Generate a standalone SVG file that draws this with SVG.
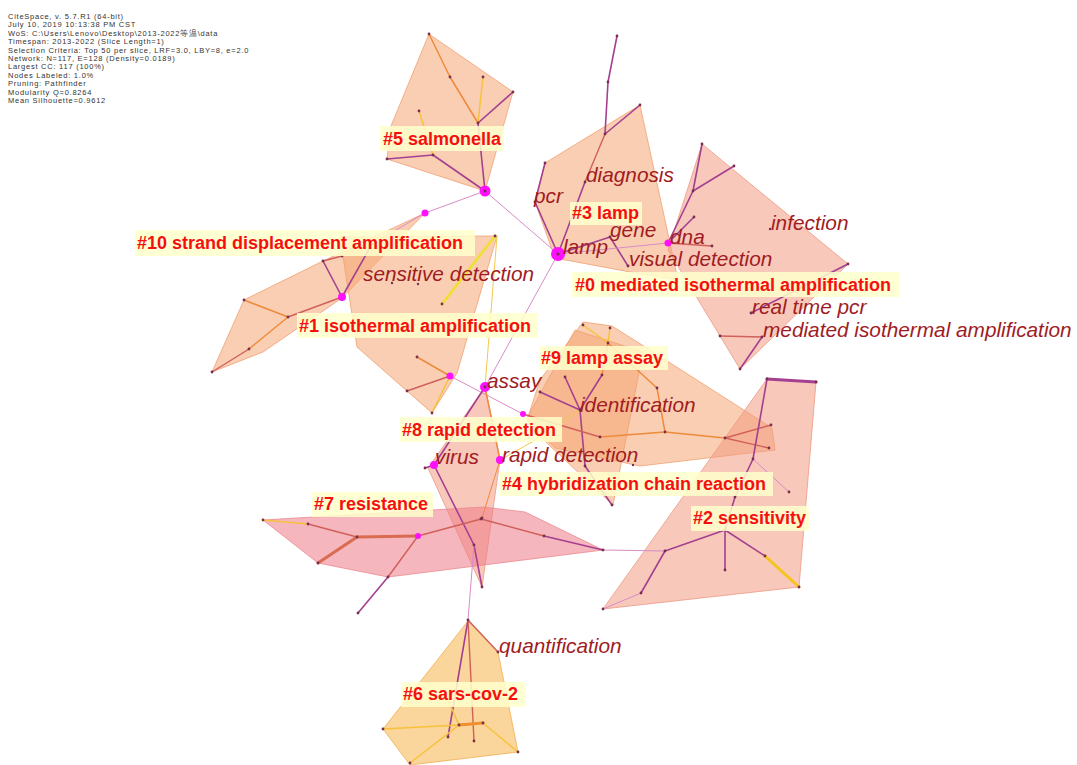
<svg xmlns="http://www.w3.org/2000/svg" width="1077" height="765" viewBox="0 0 1077 765">
<style>
.hdr{font-family:"Liberation Sans",Arial,sans-serif;font-size:7.5px;letter-spacing:0.75px;fill:#333}
.hull{fill-opacity:0.55;stroke-opacity:0.8;stroke-width:1}
.hO{fill:#F6A672;stroke:#F0A070}
.hS{fill:#F39A82;stroke:#EE9A84}
.hP{fill:#EE7A88;stroke:#EE8A90}
.hY{fill:#F5B24A;stroke:#F0B050}
.e{fill:none;stroke-linecap:round}
.p{stroke:#A4408F;stroke-width:1.6}
.pk{stroke:#D98CC8;stroke-width:1}
.o{stroke:#EE8A3C;stroke-width:1.5}
.y{stroke:#F7C23A;stroke-width:1.5}
.yt{stroke:#F4C84A;stroke-width:1}
.yb{stroke:#EEE030;stroke-width:2.6}
.yg{stroke:#F5C518;stroke-width:3}
.r{stroke:#D0605A;stroke-width:1.4}
.rt{stroke:#DA6A50;stroke-width:3}
.ot{stroke:#EE9030;stroke-width:3}
.pt{stroke:#A4408F;stroke-width:3}
.dot{fill:#7A2E4E}
.mg{fill:#FF10FF}
.box{fill:#FFFFCC;fill-opacity:0.85}
.cl{font-family:"Liberation Sans",Arial,sans-serif;font-weight:bold;font-size:18px;fill:#F51010}
.kw{font-family:"Liberation Sans",Arial,sans-serif;font-style:italic;font-size:20.8px;fill:#A01C24}
</style>
<g id="header">
<text class="hdr" x="8" y="19">CiteSpace, v. 5.7.R1 (64-bit)</text>
<text class="hdr" x="8" y="27.4">July 10, 2019 10:13:38 PM CST</text>
<text class="hdr" x="8" y="35.8">WoS: C:\Users\Lenovo\Desktop\2013-2022等温\data</text>
<text class="hdr" x="8" y="44.2">Timespan: 2013-2022 (Slice Length=1)</text>
<text class="hdr" x="8" y="52.6">Selection Criteria: Top 50 per slice, LRF=3.0, LBY=8, e=2.0</text>
<text class="hdr" x="8" y="61">Network: N=117, E=128 (Density=0.0189)</text>
<text class="hdr" x="8" y="69.4">Largest CC: 117 (100%)</text>
<text class="hdr" x="8" y="77.8">Nodes Labeled: 1.0%</text>
<text class="hdr" x="8" y="86.2">Pruning: Pathfinder</text>
<text class="hdr" x="8" y="94.6">Modularity Q=0.8264</text>
<text class="hdr" x="8" y="103">Mean Silhouette=0.9612</text>
</g>
<g id="hulls">
<polygon id="hull5" class="hull hO" points="429,34 513,92 485,191 387,159 391,126"/>
<polygon id="hull3" class="hull hO" points="545,163 640,105 678,280 630,272 555,258 535,202"/>
<polygon id="hull0" class="hull hS" points="702,144 848,264 740,369 668,250"/>
<polygon id="hull10" class="hull hO" points="212,372 244,300 323,261 425,213 342,298 263,352"/>
<polygon id="hull1" class="hull hO" points="340,237 497,236 457,373 432,413 357,347"/>
<polygon id="hull9" class="hull hO" points="583,322 612,326 650,350 772,428 775,450 640,466 555,448 527,420 540,380"/>
<polygon id="hull4" class="hull hO" points="575,330 643,352 613,505 533,430 527,418"/>
<polygon id="hull8" class="hull hS" points="485,387 500,460 482,587 428,468"/>
<polygon id="hull7" class="hull hP" points="263,520 483,507 525,512 603,550 388,577 318,563"/>
<polygon id="hull2" class="hull hS" points="767,379 816,382 799,587 603,609"/>
<polygon id="hull6" class="hull hY" points="468,621 498,652 518,752 410,765 383,729"/>
</g>
<g id="connectors" class="e">
<line class="e o" x1="429" y1="34" x2="450" y2="77"/>
<line class="e o" x1="450" y1="77" x2="478" y2="123"/>
<line class="e y" x1="483" y1="77" x2="478" y2="123"/>
<line class="e p" x1="513" y1="92" x2="478" y2="123"/>
<line class="e p" x1="478" y1="123" x2="485" y2="191"/>
<line class="e y" x1="419" y1="111" x2="433" y2="155"/>
<line class="e p" x1="387" y1="159" x2="433" y2="155"/>
<line class="e p" x1="433" y1="155" x2="485" y2="191"/>
<line class="e pk" x1="485" y1="191" x2="425" y2="213"/>
<line class="e pk" x1="485" y1="191" x2="558" y2="254"/>
<line class="e pk" x1="425" y1="213" x2="372" y2="244"/>
<line class="e p" x1="372" y1="244" x2="342" y2="297"/>
<line class="e p" x1="323" y1="261" x2="342" y2="297"/>
<line class="e r" x1="323" y1="261" x2="342" y2="256"/>
<line class="e r" x1="342" y1="297" x2="288" y2="317"/>
<line class="e o" x1="288" y1="317" x2="244" y2="300"/>
<line class="e o" x1="288" y1="317" x2="249" y2="349"/>
<line class="e r" x1="249" y1="349" x2="212" y2="372"/>
<line class="e yb" x1="495" y1="236" x2="442" y2="304"/>
<line class="e o" x1="417" y1="357" x2="450" y2="376"/>
<line class="e r" x1="407" y1="391" x2="450" y2="376"/>
<line class="e y" x1="450" y1="376" x2="432" y2="413"/>
<line class="e pk" x1="450" y1="376" x2="523" y2="414"/>
<line class="e yt" x1="497" y1="236" x2="485" y2="387"/>
<line class="e pk" x1="558" y1="254" x2="485" y2="387"/>
<line class="e p" x1="617" y1="36" x2="608" y2="82"/>
<line class="e p" x1="608" y1="82" x2="605" y2="134"/>
<line class="e p" x1="605" y1="134" x2="640" y2="105"/>
<line class="e r" x1="605" y1="134" x2="585" y2="182"/>
<line class="e p" x1="585" y1="182" x2="558" y2="254"/>
<line class="e p" x1="545" y1="163" x2="535" y2="202"/>
<line class="e p" x1="535" y1="202" x2="558" y2="254"/>
<line class="e p" x1="558" y1="254" x2="610" y2="237"/>
<line class="e p" x1="610" y1="237" x2="628" y2="266"/>
<line class="e pk" x1="558" y1="254" x2="668" y2="243"/>
<line class="e r" x1="668" y1="243" x2="712" y2="246"/>
<line class="e p" x1="702" y1="144" x2="693" y2="191"/>
<line class="e p" x1="693" y1="191" x2="734" y2="166"/>
<line class="e p" x1="693" y1="191" x2="668" y2="243"/>
<line class="e p" x1="694" y1="217" x2="673" y2="238"/>
<line class="e p" x1="848" y1="264" x2="751" y2="313"/>
<line class="e r" x1="720" y1="336" x2="762" y2="337"/>
<line class="e p" x1="762" y1="337" x2="740" y2="369"/>
<line class="e y" x1="583" y1="325" x2="608" y2="343"/>
<line class="e y" x1="610" y1="328" x2="608" y2="343"/>
<line class="e o" x1="608" y1="343" x2="602" y2="375"/>
<line class="e p" x1="602" y1="375" x2="580" y2="410"/>
<line class="e o" x1="608" y1="343" x2="657" y2="388"/>
<line class="e o" x1="657" y1="388" x2="665" y2="432"/>
<line class="e p" x1="565" y1="377" x2="580" y2="410"/>
<line class="e p" x1="540" y1="392" x2="580" y2="410"/>
<line class="e p" x1="580" y1="410" x2="585" y2="466"/>
<line class="e p" x1="585" y1="466" x2="612" y2="505"/>
<line class="e yt" x1="580" y1="410" x2="567" y2="418"/>
<line class="e yt" x1="567" y1="418" x2="532" y2="442"/>
<line class="e yt" x1="532" y1="442" x2="500" y2="460"/>
<line class="e r" x1="523" y1="414" x2="600" y2="437"/>
<line class="e o" x1="600" y1="437" x2="665" y2="432"/>
<line class="e o" x1="665" y1="432" x2="725" y2="438"/>
<line class="e r" x1="725" y1="438" x2="771" y2="425"/>
<line class="e r" x1="725" y1="438" x2="769" y2="448"/>
<line class="e p" x1="485" y1="387" x2="434" y2="465"/>
<line class="e p" x1="434" y1="465" x2="425" y2="468"/>
<line class="e p" x1="434" y1="465" x2="474" y2="545"/>
<line class="e p" x1="474" y1="545" x2="482" y2="587"/>
<line class="e pk" x1="474" y1="545" x2="468" y2="620"/>
<line class="e o" x1="485" y1="387" x2="500" y2="460"/>
<line class="e o" x1="500" y1="460" x2="482" y2="518" style="stroke-width:1"/>
<line class="e y" x1="263" y1="520" x2="308" y2="524"/>
<line class="e r" x1="308" y1="524" x2="357" y2="537"/>
<line class="e rt" x1="357" y1="537" x2="418" y2="536"/>
<line class="e rt" x1="357" y1="537" x2="318" y2="563"/>
<line class="e r" x1="418" y1="536" x2="481" y2="519"/>
<line class="e r" x1="418" y1="536" x2="388" y2="577"/>
<line class="e p" x1="388" y1="577" x2="358" y2="613"/>
<line class="e r" x1="481" y1="519" x2="544" y2="536"/>
<line class="e p" x1="544" y1="536" x2="603" y2="550"/>
<line class="e pk" x1="603" y1="550" x2="665" y2="551"/>
<line class="e pt" x1="767" y1="379" x2="816" y2="382"/>
<line class="e p" x1="767" y1="379" x2="753" y2="459"/>
<line class="e pk" x1="753" y1="459" x2="789" y2="492"/>
<line class="e p" x1="753" y1="459" x2="735" y2="497"/>
<line class="e p" x1="735" y1="497" x2="725" y2="530"/>
<line class="e p" x1="725" y1="530" x2="665" y2="551"/>
<line class="e p" x1="665" y1="551" x2="641" y2="593"/>
<line class="e pk" x1="641" y1="593" x2="603" y2="609"/>
<line class="e p" x1="725" y1="530" x2="725" y2="570"/>
<line class="e p" x1="725" y1="530" x2="765" y2="556"/>
<line class="e yg" x1="765" y1="556" x2="799" y2="587"/>
<line class="e r" x1="468" y1="620" x2="498" y2="652"/>
<line class="e p" x1="468" y1="620" x2="448" y2="737"/>
<line class="e r" x1="468" y1="620" x2="474" y2="741"/>
<line class="e y" x1="383" y1="729" x2="459" y2="725"/>
<line class="e ot" x1="459" y1="725" x2="483" y2="723"/>
<line class="e y" x1="483" y1="723" x2="518" y2="752"/>
<line class="e y" x1="459" y1="725" x2="410" y2="763"/>
<line class="e y" x1="459" y1="725" x2="448" y2="700"/>
</g>
<g id="nodes">
<g class="dot">
<circle cx="429" cy="34" r="1.4"/><circle cx="450" cy="77" r="1.4"/><circle cx="483" cy="77" r="1.4"/><circle cx="513" cy="92" r="1.4"/><circle cx="478" cy="123" r="1.4"/><circle cx="419" cy="111" r="1.4"/><circle cx="387" cy="159" r="1.4"/><circle cx="433" cy="155" r="1.4"/>
<circle cx="323" cy="261" r="1.4"/><circle cx="342" cy="256" r="1.4"/><circle cx="288" cy="317" r="1.4"/><circle cx="244" cy="300" r="1.4"/><circle cx="249" cy="349" r="1.4"/><circle cx="212" cy="372" r="1.4"/>
<circle cx="495" cy="236" r="1.4"/><circle cx="442" cy="304" r="1.4"/><circle cx="417" cy="357" r="1.4"/><circle cx="407" cy="391" r="1.4"/><circle cx="432" cy="413" r="1.4"/><circle cx="392" cy="283" r="1.2"/><circle cx="418" cy="284" r="1.2"/>
<circle cx="617" cy="36" r="1.4"/><circle cx="608" cy="82" r="1.4"/><circle cx="605" cy="134" r="1.4"/><circle cx="640" cy="105" r="1.4"/><circle cx="585" cy="182" r="1.4"/><circle cx="545" cy="163" r="1.4"/><circle cx="535" cy="202" r="1.4"/><circle cx="610" cy="237" r="1.4"/><circle cx="628" cy="266" r="1.4"/><circle cx="712" cy="246" r="1.4"/>
<circle cx="702" cy="144" r="1.4"/><circle cx="693" cy="191" r="1.4"/><circle cx="734" cy="166" r="1.4"/><circle cx="694" cy="217" r="1.4"/><circle cx="848" cy="264" r="1.4"/><circle cx="751" cy="313" r="1.4"/><circle cx="720" cy="336" r="1.4"/><circle cx="762" cy="337" r="1.4"/><circle cx="740" cy="369" r="1.4"/><circle cx="770" cy="229" r="1.2"/>
<circle cx="583" cy="325" r="1.4"/><circle cx="610" cy="328" r="1.4"/><circle cx="608" cy="343" r="1.4"/><circle cx="602" cy="375" r="1.4"/><circle cx="657" cy="388" r="1.4"/><circle cx="665" cy="432" r="1.4"/><circle cx="565" cy="377" r="1.4"/><circle cx="540" cy="392" r="1.4"/><circle cx="580" cy="410" r="1.4"/><circle cx="585" cy="466" r="1.4"/><circle cx="612" cy="505" r="1.4"/><circle cx="600" cy="437" r="1.4"/><circle cx="725" cy="438" r="1.4"/><circle cx="771" cy="425" r="1.4"/><circle cx="769" cy="448" r="1.4"/><circle cx="633" cy="465" r="1.2"/>
<circle cx="425" cy="468" r="1.4"/><circle cx="474" cy="545" r="1.4"/><circle cx="482" cy="587" r="1.4"/><circle cx="482" cy="518" r="1.4"/><circle cx="468" cy="620" r="1.4"/>
<circle cx="263" cy="520" r="1.4"/><circle cx="308" cy="524" r="1.4"/><circle cx="357" cy="537" r="1.4"/><circle cx="318" cy="563" r="1.4"/><circle cx="481" cy="519" r="1.4"/><circle cx="388" cy="577" r="1.4"/><circle cx="358" cy="613" r="1.4"/><circle cx="544" cy="536" r="1.4"/><circle cx="603" cy="550" r="1.4"/>
<circle cx="767" cy="379" r="1.4"/><circle cx="816" cy="382" r="1.4"/><circle cx="753" cy="459" r="1.4"/><circle cx="789" cy="492" r="1.4"/><circle cx="735" cy="497" r="1.4"/><circle cx="725" cy="530" r="1.4"/><circle cx="665" cy="551" r="1.4"/><circle cx="641" cy="593" r="1.4"/><circle cx="603" cy="609" r="1.4"/><circle cx="725" cy="570" r="1.4"/><circle cx="765" cy="556" r="1.4"/><circle cx="799" cy="587" r="1.4"/>
<circle cx="498" cy="652" r="1.4"/><circle cx="448" cy="737" r="1.4"/><circle cx="474" cy="741" r="1.4"/><circle cx="383" cy="729" r="1.4"/><circle cx="459" cy="725" r="1.4"/><circle cx="483" cy="723" r="1.4"/><circle cx="518" cy="752" r="1.4"/><circle cx="410" cy="763" r="1.4"/>
</g>
<g class="mg">
<circle cx="485" cy="191" r="5.5"/><circle cx="425" cy="213" r="3.5"/><circle cx="558" cy="254" r="7"/><circle cx="668" cy="243" r="3.5"/><circle cx="342" cy="297" r="4"/><circle cx="450" cy="376" r="3.5"/><circle cx="485" cy="387" r="5"/><circle cx="434" cy="465" r="4"/><circle cx="500" cy="460" r="4"/><circle cx="523" cy="414" r="3"/><circle cx="418" cy="536" r="3"/>
</g>
<g class="dot">
<circle cx="485" cy="191" r="1.4"/><circle cx="558" cy="254" r="1.6"/><circle cx="485" cy="387" r="1.4"/>
</g>
</g>
<g id="keywords">
<text class="kw" x="586" y="182">diagnosis</text>
<text class="kw" x="534" y="203">pcr</text>
<text class="kw" x="610" y="237">gene</text>
<text class="kw" x="563" y="254">lamp</text>
<text class="kw" x="670" y="244">dna</text>
<text class="kw" x="629" y="266">visual detection</text>
<text class="kw" x="771" y="230">infection</text>
<text class="kw" x="363" y="281">sensitive detection</text>
<text class="kw" x="752" y="314">real time pcr</text>
<text class="kw" x="763" y="337">mediated isothermal amplification</text>
<text class="kw" x="487" y="388">assay</text>
<text class="kw" x="580" y="412">identification</text>
<text class="kw" x="435" y="464">virus</text>
<text class="kw" x="502" y="462">rapid detection</text>
<text class="kw" x="499" y="653">quantification</text>
</g>
<g id="cluster5"><rect class="box" x="380" y="126" width="124" height="25"/><text class="cl" x="383" y="145">#5 salmonella</text></g>
<g id="cluster3"><rect class="box" x="570" y="202" width="72" height="23"/><text class="cl" x="572" y="219">#3 lamp</text></g>
<g id="cluster10"><rect class="box" x="135" y="230" width="340" height="26"/><text class="cl" x="137" y="249">#10 strand displacement amplification</text></g>
<g id="cluster0"><rect class="box" x="572" y="272" width="328" height="25"/><text class="cl" x="575" y="291">#0 mediated isothermal amplification</text></g>
<g id="cluster1"><rect class="box" x="297" y="313" width="241" height="25"/><text class="cl" x="299" y="332">#1 isothermal amplification</text></g>
<g id="cluster9"><rect class="box" x="539" y="346" width="129" height="24"/><text class="cl" x="541" y="364">#9 lamp assay</text></g>
<g id="cluster8"><rect class="box" x="400" y="417" width="162" height="25"/><text class="cl" x="402" y="436">#8 rapid detection</text></g>
<g id="cluster4"><rect class="box" x="500" y="472" width="273" height="24"/><text class="cl" x="502" y="490">#4 hybridization chain reaction</text></g>
<g id="cluster7"><rect class="box" x="312" y="492" width="121" height="25"/><text class="cl" x="314" y="510">#7 resistance</text></g>
<g id="cluster2"><rect class="box" x="691" y="506" width="118" height="25"/><text class="cl" x="693" y="524">#2 sensitivity</text></g>
<g id="cluster6"><rect class="box" x="401" y="682" width="124" height="25"/><text class="cl" x="403" y="700">#6 sars-cov-2</text></g>
</svg>
